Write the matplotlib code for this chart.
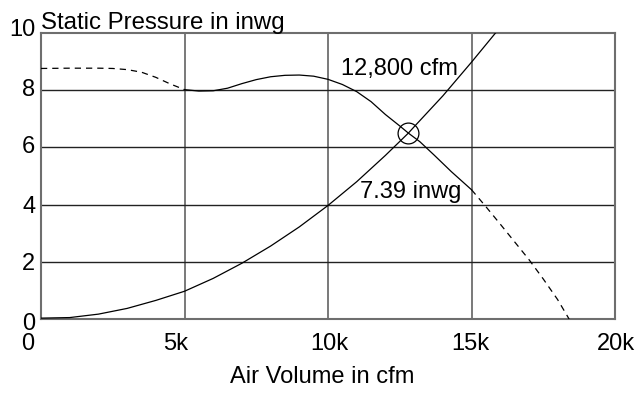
import matplotlib
matplotlib.use("Agg")
import matplotlib.pyplot as plt
import matplotlib.transforms as mtransforms

plt.rcParams['font.family'] = ['Liberation Sans', 'DejaVu Sans']

# Fan curve (x in thousands of cfm, static pressure in inwg)
fan_dash1_x = [0, 1, 2, 2.5, 3, 3.5, 4, 4.5, 5]
fan_dash1_y = [8.76, 8.77, 8.77, 8.76, 8.72, 8.63, 8.45, 8.22, 8.02]
fan_solid_x = [5, 5.5, 6, 6.5, 7, 7.5, 8, 8.5, 9, 9.5, 10, 10.5, 11, 11.5,
               12, 12.5, 12.8, 13.2, 13.7, 14.3, 15]
fan_solid_y = [8.02, 7.97, 7.98, 8.07, 8.23, 8.37, 8.47, 8.52, 8.53, 8.49,
               8.38, 8.2, 7.95, 7.6, 7.15, 6.75, 6.5, 6.2, 5.73, 5.15, 4.52]
fan_dash2_x = [15, 15.5, 16, 16.5, 17, 17.5, 18, 18.4]
fan_dash2_y = [4.52, 3.93, 3.32, 2.7, 2.08, 1.4, 0.68, 0.0]

# System curve
sys_x = [0, 1, 2, 3, 4, 5, 6, 7, 8, 9, 10, 11, 12, 12.8, 13, 14, 15, 16]
sys_y = [0.03, 0.05, 0.17, 0.37, 0.65, 0.97, 1.42, 1.95, 2.55, 3.22, 3.97,
         4.8, 5.72, 6.5, 6.72, 7.8, 8.98, 10.2]

# Operating point
op_x = 12.8
op_y = 6.5
op_label_flow = "12,800 cfm"
op_label_pressure = "7.39 inwg"

x_ticks = [0, 5, 10, 15, 20]
x_ticklabels = ["0", "5k", "10k", "15k", "20k"]
y_ticks = [0, 2, 4, 6, 8, 10]
y_ticklabels = ["0", "2", "4", "6", "8", "10"]

title = "Static Pressure in inwg"
xlabel = "Air Volume in cfm"

W, H = 637, 393
fig = plt.figure(figsize=(W / 100, H / 100), dpi=100)
ax = fig.add_axes([41 / W, 1 - 319 / H, (615 - 41) / W, (319 - 33) / H])
ax.set_xlim(0, 20)
ax.set_ylim(0, 10)

grid_gray = '#6e6e6e'
for xv in x_ticks[1:-1]:
    ax.axvline(xv, color=grid_gray, lw=1.3, zorder=1)
for yv in y_ticks[1:-1]:
    ax.axhline(yv, color='#222222', lw=1.0, zorder=1)
for s in ax.spines.values():
    s.set_color(grid_gray)
    s.set_linewidth(1.5)

ax.plot(fan_dash1_x, fan_dash1_y, color='black', lw=0.9, ls=(0, (5, 4)), zorder=3)
ax.plot(fan_solid_x, fan_solid_y, color='black', lw=0.9, zorder=3)
ax.plot(fan_dash2_x, fan_dash2_y, color='black', lw=0.9, ls=(0, (5, 4)), zorder=3)
ax.plot(sys_x, sys_y, color='black', lw=0.9, zorder=3)
ax.plot([op_x], [op_y], marker='o', ms=15, mfc='none', mec='black', mew=0.9, zorder=4)

fs = 17
ax.text(10.47, 8.74, op_label_flow, fontsize=fs, ha='left', va='center', zorder=5)
ax.text(11.1, 4.44, op_label_pressure, fontsize=fs, ha='left', va='center', zorder=5)

ax.set_xticks(x_ticks)
ax.set_xticklabels(x_ticklabels, fontsize=fs)
ax.set_yticks(y_ticks)
ax.set_yticklabels(y_ticklabels, fontsize=fs)
ax.tick_params(axis='x', length=0, pad=10)
ax.tick_params(axis='y', length=0, pad=4)

x_label_shift = [-13, -9, 1, -1.5, 1]
for lab, dx in zip(ax.get_xticklabels(), x_label_shift):
    lab.set_transform(lab.get_transform() + mtransforms.ScaledTranslation(dx / 100, 0, fig.dpi_scale_trans))
y_label_shift = [-2, 0, 0, 3, 3, 5]
for lab, dy in zip(ax.get_yticklabels(), y_label_shift):
    lab.set_transform(lab.get_transform() + mtransforms.ScaledTranslation(0, dy / 100, fig.dpi_scale_trans))

fig.text(41 / W, 1 - 28.5 / H, title, fontsize=17.3, ha='left', va='baseline')
fig.text(322.5 / W, 1 - 383 / H, xlabel, fontsize=fs, ha='center', va='baseline')

fig.savefig("out.png", dpi=100)
